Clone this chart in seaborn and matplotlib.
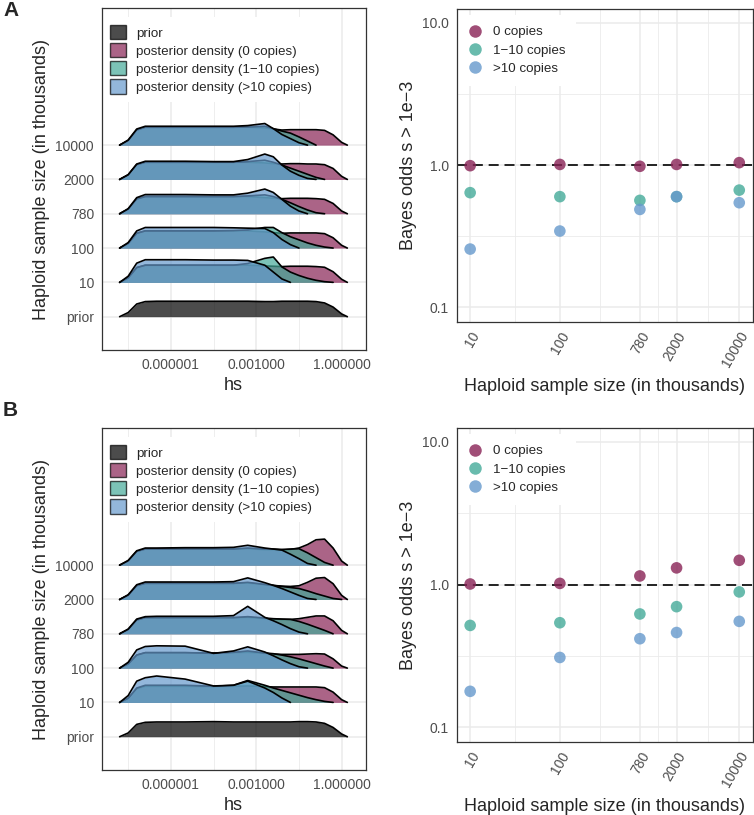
import numpy as np
import pandas as pd
import matplotlib
matplotlib.use("Agg")
import matplotlib.pyplot as plt
from matplotlib.patches import Patch
from matplotlib.lines import Line2D
from matplotlib.ticker import FixedLocator, NullFormatter
import seaborn as sns

nan = np.nan

log_hs = [-7.8, -7.5, -7.2, -6.9, -6.5, -5.5, -4.5, -3.8, -3.3, -2.7,
          -2.4, -2.1, -1.8, -1.5, -1.2, -0.9, -0.6, -0.3, 0.0, 0.2]
row_labels = ["prior", "10", "100", "780", "2000", "10000"]

# panel A ridge heights (rows: 10, 100, 780, 2000, 10000)
a_prior = [0, 0.12, 0.37, 0.44, 0.45, 0.45, 0.45, 0.45, 0.45, 0.44, 0.44, 0.45, 0.45, 0.45, 0.45, 0.44, 0.40, 0.28, 0.08, 0]
a_zero = [
    [0, 0.13, 0.43, 0.50, 0.50, 0.50, 0.50, 0.50, 0.50, 0.48, 0.47, 0.46, 0.47, 0.47, 0.47, 0.46, 0.44, 0.31, 0.09, 0],
    [0, 0.13, 0.43, 0.50, 0.50, 0.50, 0.50, 0.50, 0.50, 0.47, 0.45, 0.43, 0.44, 0.44, 0.44, 0.44, 0.42, 0.30, 0.08, 0],
    [0, 0.13, 0.43, 0.50, 0.50, 0.50, 0.50, 0.50, 0.50, 0.47, 0.45, 0.44, 0.45, 0.45, 0.45, 0.44, 0.42, 0.30, 0.08, 0],
    [0, 0.13, 0.43, 0.50, 0.50, 0.50, 0.50, 0.50, 0.50, 0.48, 0.46, 0.45, 0.46, 0.46, 0.45, 0.45, 0.43, 0.32, 0.09, 0],
    [0, 0.13, 0.44, 0.52, 0.52, 0.52, 0.52, 0.52, 0.52, 0.50, 0.47, 0.44, 0.45, 0.45, 0.45, 0.45, 0.43, 0.30, 0.08, 0],
]
a_low = [
    [0, 0.13, 0.43, 0.50, 0.50, 0.50, 0.50, 0.50, 0.55, 0.70, 0.74, 0.45, 0.30, 0.20, 0.12, 0.06, 0.02, 0, nan, nan],
    [0, 0.13, 0.43, 0.50, 0.50, 0.50, 0.50, 0.51, 0.53, 0.60, 0.60, 0.45, 0.33, 0.24, 0.15, 0.08, 0.03, 0, nan, nan],
    [0, 0.13, 0.43, 0.50, 0.50, 0.50, 0.50, 0.50, 0.52, 0.55, 0.50, 0.42, 0.32, 0.21, 0.11, 0.03, 0, nan, nan, nan],
    [0, 0.13, 0.43, 0.50, 0.50, 0.50, 0.50, 0.50, 0.52, 0.56, 0.50, 0.42, 0.33, 0.24, 0.15, 0.06, 0, nan, nan, nan],
    [0, 0.13, 0.44, 0.52, 0.52, 0.52, 0.52, 0.52, 0.53, 0.55, 0.48, 0.41, 0.35, 0.24, 0.12, 0, nan, nan, nan, nan],
]
a_high = [
    [0, 0.18, 0.56, 0.66, 0.66, 0.66, 0.65, 0.65, 0.64, 0.50, 0.30, 0.10, 0, nan, nan, nan, nan, nan, nan, nan],
    [0, 0.16, 0.50, 0.60, 0.60, 0.60, 0.60, 0.59, 0.58, 0.57, 0.45, 0.25, 0.10, 0, nan, nan, nan, nan, nan, nan],
    [0, 0.15, 0.47, 0.56, 0.56, 0.56, 0.55, 0.55, 0.60, 0.72, 0.62, 0.42, 0.22, 0.08, 0, nan, nan, nan, nan, nan],
    [0, 0.14, 0.45, 0.53, 0.53, 0.53, 0.52, 0.52, 0.58, 0.74, 0.66, 0.42, 0.24, 0.12, 0.03, 0, nan, nan, nan, nan],
    [0, 0.15, 0.47, 0.55, 0.55, 0.55, 0.55, 0.55, 0.57, 0.63, 0.48, 0.31, 0.19, 0.07, 0, nan, nan, nan, nan, nan],
]

# panel B ridge heights
b_prior = [0, 0.11, 0.36, 0.42, 0.43, 0.43, 0.44, 0.43, 0.43, 0.43, 0.43, 0.43, 0.43, 0.44, 0.44, 0.43, 0.39, 0.27, 0.08, 0]
b_zero = [
    [0, 0.12, 0.40, 0.47, 0.47, 0.47, 0.46, 0.47, 0.48, 0.46, 0.45, 0.45, 0.45, 0.45, 0.45, 0.45, 0.43, 0.30, 0.08, 0],
    [0, 0.12, 0.38, 0.45, 0.45, 0.45, 0.44, 0.45, 0.46, 0.43, 0.41, 0.40, 0.40, 0.40, 0.41, 0.42, 0.41, 0.27, 0.06, 0],
    [0, 0.12, 0.40, 0.47, 0.47, 0.47, 0.47, 0.47, 0.48, 0.44, 0.43, 0.42, 0.42, 0.44, 0.48, 0.52, 0.52, 0.38, 0.10, 0],
    [0, 0.12, 0.40, 0.47, 0.47, 0.47, 0.47, 0.47, 0.48, 0.43, 0.41, 0.39, 0.38, 0.40, 0.50, 0.62, 0.64, 0.46, 0.12, 0],
    [0, 0.12, 0.40, 0.47, 0.47, 0.47, 0.47, 0.47, 0.48, 0.45, 0.45, 0.44, 0.46, 0.50, 0.60, 0.74, 0.76, 0.50, 0.12, 0],
]
b_low = [
    [0, 0.12, 0.42, 0.50, 0.50, 0.50, 0.47, 0.50, 0.64, 0.50, 0.42, 0.35, 0.28, 0.21, 0.14, 0.08, 0.03, 0, nan, nan],
    [0, 0.12, 0.38, 0.45, 0.45, 0.45, 0.43, 0.46, 0.50, 0.44, 0.42, 0.38, 0.33, 0.27, 0.20, 0.13, 0.06, 0, nan, nan],
    [0, 0.12, 0.40, 0.47, 0.47, 0.47, 0.47, 0.47, 0.50, 0.46, 0.44, 0.43, 0.42, 0.36, 0.28, 0.19, 0.10, 0, nan, nan],
    [0, 0.12, 0.40, 0.47, 0.47, 0.47, 0.47, 0.47, 0.50, 0.44, 0.41, 0.38, 0.35, 0.32, 0.25, 0.17, 0.10, 0.03, 0, nan],
    [0, 0.12, 0.40, 0.47, 0.47, 0.47, 0.47, 0.47, 0.50, 0.47, 0.47, 0.46, 0.47, 0.48, 0.36, 0.22, 0.08, 0, nan, nan],
]
b_high = [
    [0, 0.20, 0.62, 0.72, 0.77, 0.68, 0.48, 0.50, 0.62, 0.42, 0.29, 0.13, 0, nan, nan, nan, nan, nan, nan, nan],
    [0, 0.17, 0.53, 0.63, 0.65, 0.64, 0.43, 0.50, 0.62, 0.47, 0.36, 0.24, 0.13, 0.04, 0, nan, nan, nan, nan, nan],
    [0, 0.14, 0.43, 0.50, 0.51, 0.51, 0.51, 0.53, 0.80, 0.48, 0.38, 0.27, 0.15, 0.05, 0, nan, nan, nan, nan, nan],
    [0, 0.14, 0.43, 0.51, 0.51, 0.51, 0.51, 0.52, 0.63, 0.49, 0.41, 0.32, 0.22, 0.12, 0.03, 0, nan, nan, nan, nan],
    [0, 0.14, 0.42, 0.50, 0.50, 0.51, 0.51, 0.52, 0.58, 0.50, 0.47, 0.44, 0.32, 0.19, 0.05, 0, nan, nan, nan, nan],
]

# Bayes odds
sample_size = [10, 100, 780, 2000, 10000]
copies = ["0 copies", "1\u221210 copies", ">10 copies"]
a_odds_zero = [0.99, 1.01, 0.98, 1.01, 1.04]
a_odds_low = [0.64, 0.60, 0.565, 0.60, 0.667]
a_odds_high = [0.257, 0.344, 0.488, 0.60, 0.544]
b_odds_zero = [1.01, 1.02, 1.15, 1.31, 1.48]
b_odds_low = [0.518, 0.541, 0.623, 0.701, 0.889]
b_odds_high = [0.179, 0.309, 0.418, 0.462, 0.553]

pink, teal, blue = "#882255", "#44AA99", "#6699CC"
legend_names = ["prior", "posterior density (0 copies)",
                "posterior density (1\u221210 copies)", "posterior density (>10 copies)"]

sns.set_theme(style="white")
plt.rcParams["font.family"] = ["Liberation Sans", "DejaVu Sans"]

grid_col = "#ebebeb"
border_col = "#333333"
tick_col = "#4d4d4d"


def style_axes(ax):
    for s in ax.spines.values():
        s.set_visible(True)
        s.set_color(border_col)
        s.set_linewidth(0.9)
        s.set_zorder(6)
    ax.tick_params(which="major", direction="out", length=3.5, width=0.8,
                   color=border_col, labelcolor=tick_col, labelsize=10, pad=2)
    ax.tick_params(which="minor", length=0)
    ax.set_axisbelow(True)


def ridges(ax, prior, zero, low, high):
    hs = 10 ** np.array(log_hs)

    def draw(y0, dens, color):
        d = np.array(dens, dtype=float)
        m = ~np.isnan(d)
        ax.fill_between(hs[m], y0, y0 + d[m], color=color, alpha=0.7, lw=0, zorder=2)
        ax.plot(hs[m], y0 + d[m], color="black", lw=1.2, zorder=2,
                solid_joinstyle="round", solid_capstyle="round")

    draw(0, prior, "black")
    for i in range(5):
        draw(i + 1, zero[i], pink)
        draw(i + 1, low[i], teal)
        draw(i + 1, high[i], blue)

    ax.set_xscale("log")
    ax.set_xlim(10 ** -8.43, 10 ** 0.845)
    ax.set_ylim(-0.97, 8.99)
    ax.xaxis.set_major_locator(FixedLocator([1e-6, 1e-3, 1.0]))
    ax.set_xticklabels(["0.000001", "0.001000", "1.000000"])
    ax.xaxis.set_minor_locator(FixedLocator([10 ** -7.5, 10 ** -4.5, 10 ** -1.5]))
    ax.xaxis.set_minor_formatter(NullFormatter())
    ax.set_yticks(range(6))
    ax.set_yticklabels(row_labels)
    ax.grid(True, which="major", color=grid_col, lw=1.1)
    ax.grid(True, which="minor", axis="x", color=grid_col, lw=0.6)
    style_axes(ax)
    ax.set_xlabel("hs", fontsize=13, labelpad=4)
    ax.set_ylabel("Haploid sample size (in thousands)", fontsize=13, labelpad=4)

    handles = [Patch(facecolor=c, alpha=0.7, edgecolor="black", lw=1.0)
               for c in ["black", pink, teal, blue]]
    leg = ax.legend(handles, legend_names, loc="upper left", bbox_to_anchor=(0.0, 0.975),
                    borderaxespad=0.0, frameon=True, fontsize=9.6, handlelength=1.2,
                    handleheight=1.3, handletextpad=0.75, labelspacing=0.25,
                    borderpad=0.6)
    leg.get_frame().set_facecolor("white")
    leg.get_frame().set_edgecolor("none")
    leg.get_frame().set_alpha(1)
    leg.set_zorder(5)


def odds_panel(ax, zero, low, high):
    df = pd.DataFrame({
        "size": sample_size * 3,
        "odds": zero + low + high,
        "copies": [copies[0]] * 5 + [copies[1]] * 5 + [copies[2]] * 5,
    })
    sns.scatterplot(data=df, x="size", y="odds", hue="copies", hue_order=copies,
                    palette=[pink, teal, blue], s=70, alpha=0.8, edgecolor="none",
                    legend=False, ax=ax, zorder=3)
    ax.axhline(1.0, color="black", lw=1.2, ls=(0, (6, 3.5)), zorder=2)
    ax.set_xscale("log")
    ax.set_yscale("log")
    ax.set_xlim(10 ** 0.85, 10 ** 4.15)
    ax.set_ylim(10 ** -1.1, 10 ** 1.094)
    ax.xaxis.set_major_locator(FixedLocator(sample_size))
    ax.set_xticklabels([str(v) for v in sample_size], rotation=60, ha="right",
                       rotation_mode="anchor")
    ss = np.array(sample_size, dtype=float)
    ax.xaxis.set_minor_locator(FixedLocator(np.sqrt(ss[:-1] * ss[1:])))
    ax.xaxis.set_minor_formatter(NullFormatter())
    ax.yaxis.set_major_locator(FixedLocator([0.1, 1.0, 10.0]))
    ax.set_yticklabels(["0.1", "1.0", "10.0"])
    ax.yaxis.set_minor_locator(FixedLocator([10 ** -0.5, 10 ** 0.5]))
    ax.yaxis.set_minor_formatter(NullFormatter())
    ax.grid(True, which="major", color=grid_col, lw=1.1)
    ax.grid(True, which="minor", color=grid_col, lw=0.6)
    style_axes(ax)
    ax.set_xlabel("Haploid sample size (in thousands)", fontsize=13, labelpad=6)
    ax.set_ylabel("Bayes odds s > 1e\u22123", fontsize=13, labelpad=4)

    handles = [Line2D([], [], marker="o", ls="none", markersize=9, alpha=0.8,
                      markerfacecolor=c, markeredgecolor="none") for c in [pink, teal, blue]]
    leg = ax.legend(handles, copies, loc="upper left", bbox_to_anchor=(0.0, 0.981),
                    borderaxespad=0.0, frameon=True, fontsize=9.6, handlelength=1.2,
                    handletextpad=0.7, labelspacing=0.45, borderpad=0.8)
    leg.get_frame().set_facecolor("white")
    leg.get_frame().set_edgecolor("none")
    leg.get_frame().set_alpha(1)
    leg.set_zorder(5)


fig = plt.figure(figsize=(7.54, 8.15), dpi=100)
ax_a1 = fig.add_axes([0.1349, 0.5706, 0.3501, 0.4193])
ax_a2 = fig.add_axes([0.6057, 0.6053, 0.3926, 0.3833])
ax_b1 = fig.add_axes([0.1349, 0.0552, 0.3501, 0.4193])
ax_b2 = fig.add_axes([0.6057, 0.0899, 0.3926, 0.3845])

ridges(ax_a1, a_prior, a_zero, a_low, a_high)
odds_panel(ax_a2, a_odds_zero, a_odds_low, a_odds_high)
ridges(ax_b1, b_prior, b_zero, b_low, b_high)
odds_panel(ax_b2, b_odds_zero, b_odds_low, b_odds_high)

fig.text(0.004, 0.999, "A", fontsize=15, fontweight="bold", va="top", ha="left")
fig.text(0.004, 0.508, "B", fontsize=15, fontweight="bold", va="top", ha="left")

fig.savefig("out.png", dpi=100)
